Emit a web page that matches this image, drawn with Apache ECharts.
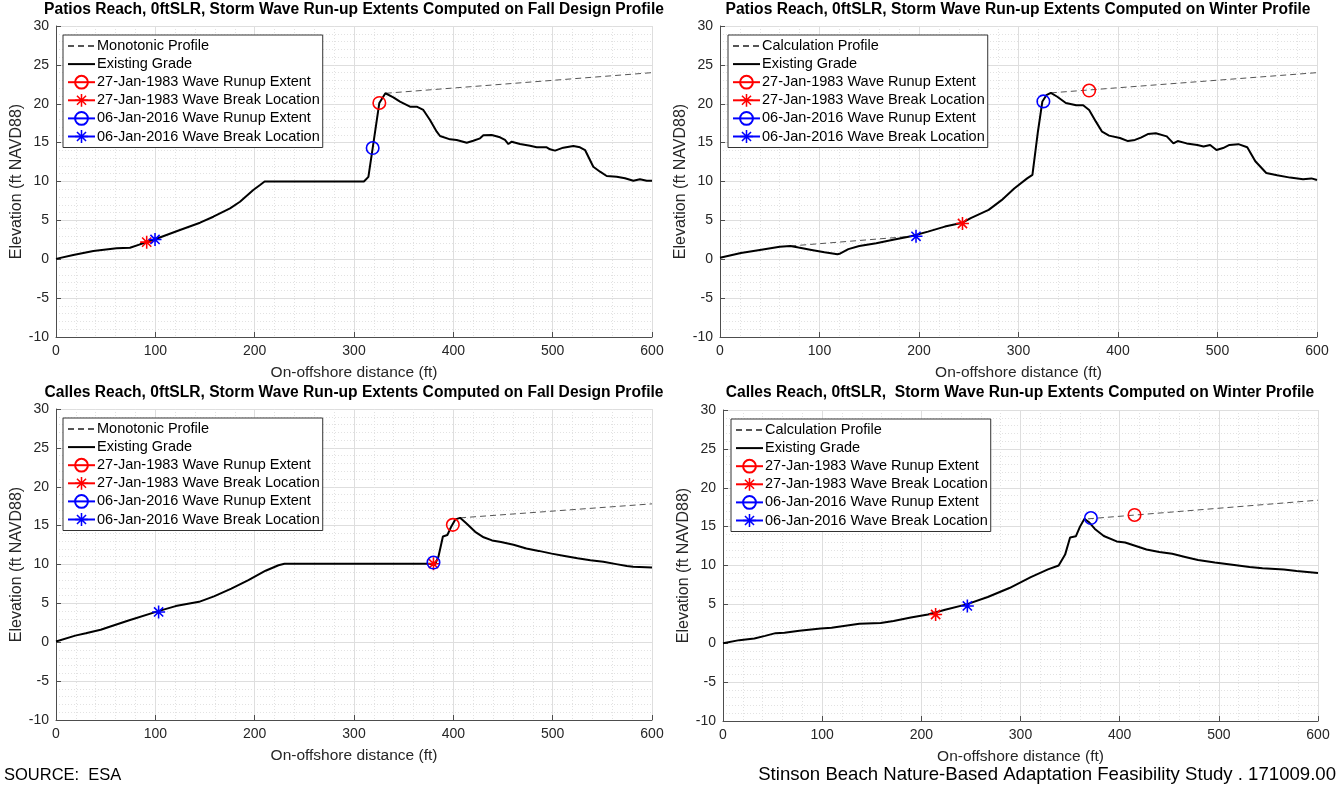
<!DOCTYPE html>
<html>
<head>
<meta charset="utf-8">
<script src="https://cdn.jsdelivr.net/npm/echarts@6/dist/echarts.min.js"></script>
<style>
html,body{margin:0;padding:0;background:#fff;}
#chart{width:1343px;height:788px;}
</style>
</head>
<body>
<div id="chart"></div>
<script>
// ---------- DATA ----------
const titles = [
  'Patios Reach, 0ftSLR, Storm Wave Run-up Extents Computed on Fall Design Profile',
  'Patios Reach, 0ftSLR, Storm Wave Run-up Extents Computed on Winter Profile',
  'Calles Reach, 0ftSLR, Storm Wave Run-up Extents Computed on Fall Design Profile',
  'Calles Reach, 0ftSLR,  Storm Wave Run-up Extents Computed on Winter Profile'
];
const profileNames = ['Monotonic Profile', 'Calculation Profile', 'Monotonic Profile', 'Calculation Profile'];
const xTicks = [0, 100, 200, 300, 400, 500, 600];
const yTicks = [-10, -5, 0, 5, 10, 15, 20, 25, 30];

// Patios Reach, Fall Design profile
const patiosFallX = [0,17.4,37.6,61,74.5,84.6,99.7,124.8,145,158.4,175.2,185.2,198.6,205.4,210,310,314.5,318.8,325.5,331.6,339.6,346.3,356.4,363.1,369.8,376.5,383.3,386.6,396.7,403.4,413.5,420.1,426.9,430.2,438.6,447,452,455.4,458.8,467.1,477.2,483.9,494,497.3,502.4,510.7,520.8,527.5,532.6,540.9,547.7,554.4,564.5,572.8,581.2,587.9,594.7,600];
const patiosFallY = [0.05,0.55,1.06,1.4,1.48,1.92,2.57,3.76,4.7,5.47,6.55,7.4,8.9,9.55,10,10,10.6,14.3,20.1,21.35,20.83,20.27,19.62,19.62,19.2,17.91,16.41,15.85,15.42,15.34,14.99,15.25,15.55,15.94,15.98,15.68,15.34,14.82,15.12,14.82,14.6,14.4,14.4,14.14,13.97,14.35,14.57,14.4,14.05,11.9,11.26,10.71,10.62,10.41,10.1,10.28,10.1,10.1];
const patiosFallProfX = [332, 600];
const patiosFallProfY = [21.35, 24.0];

// Patios Reach, Winter profile
const patiosWinterX = [0,21,40,60,70.6,79,92,105,118,121,129,140,157,174,192,209,226,243.7,252,270,283,295.7,308.7,314,319.5,324,328,332.5,339,347.6,358,365,371,377.8,384,391,402,410,417,423,430,438,449,455.7,460,469,479.7,486,492.6,499,505.6,512,521,529.9,538,549,560,573,586,594.4,600];
const patiosWinterY = [0.2,0.8,1.2,1.6,1.7,1.5,1.2,0.9,0.65,0.75,1.3,1.7,2.05,2.5,2.95,3.55,4.2,4.7,5.3,6.35,7.6,9.1,10.4,10.85,16.4,20.3,21.1,21.4,20.9,20.1,19.8,19.8,19.2,17.7,16.4,15.9,15.6,15.2,15.35,15.65,16.1,16.2,15.8,14.9,15.2,14.9,14.7,14.5,14.7,14.05,14.3,14.7,14.8,14.4,12.6,11.1,10.8,10.5,10.3,10.4,10.2];
const patiosWinterProfAX = [70.6, 197];
const patiosWinterProfAY = [1.7, 3.0];
const patiosWinterProfBX = [332.5, 600];
const patiosWinterProfBY = [21.4, 24.0];

// Calles Reach, Fall Design profile
const callesFallX = [0,19.4,30,45,54,73,103,120.5,144,159,176.5,193.7,211,224,230,376.7,381,385,389.5,394,398,402,406.8,413,422,430.5,439,448,460.6,473.5,486,499,512,525,538,551,564,574.7,581,600];
const callesFallY = [0.1,0.85,1.15,1.6,2.0,2.8,4.0,4.65,5.2,5.9,6.9,8.0,9.2,9.9,10.1,10.1,9.9,11.0,13.6,13.8,14.9,15.8,16.0,15.3,14.2,13.5,13.1,12.9,12.55,12.05,11.75,11.4,11.1,10.8,10.55,10.35,10.05,9.8,9.7,9.6];
const callesFallProfX = [406.8, 600];
const callesFallProfY = [16.0, 17.8];

// Calles Reach, Winter profile
const callesWinterX = [0,16.4,31.6,42.4,53,62,77,98.6,109.5,120,137.5,159,172,189.4,206.7,224,245.6,267,288.8,310.4,327.7,338.5,345,350,355.8,360,364.5,368.8,375,384,397,405.5,414,427,440,453,466,479,496,513.6,531,544,565.5,578.5,600];
const callesWinterY = [0,0.4,0.6,0.95,1.3,1.35,1.6,1.9,2.0,2.2,2.5,2.6,2.85,3.3,3.7,4.3,5.0,5.95,7.1,8.5,9.5,10.0,11.4,13.6,13.75,15.0,16.0,15.6,14.7,13.8,13.1,12.95,12.6,12.05,11.75,11.5,11.1,10.7,10.4,10.1,9.8,9.65,9.5,9.3,9.05];
const callesWinterProfX = [368, 600];
const callesWinterProfY = [16.0, 18.4];

// markers per panel: [x, y]
const runup1983 = [[325.5, 20.1], [371, 21.7], [399.5, 15.1], [415, 16.5]];
const break1983 = [[91.3, 2.2], [243.7, 4.6], [380, 10.1], [214.4, 3.7]];
const runup2016 = [[318.8, 14.3], [325, 20.3], [380, 10.25], [371, 16.1]];
const break2016 = [[99.7, 2.55], [197, 2.95], [103.3, 3.9], [246.4, 4.8]];

// ---------- BUILD ----------
function zip(xs, ys) { return xs.map((x, i) => [x, ys[i]]); }

const grades = [
  zip(patiosFallX, patiosFallY),
  zip(patiosWinterX, patiosWinterY),
  zip(callesFallX, callesFallY),
  zip(callesWinterX, callesWinterY)
];
const profiles = [
  [zip(patiosFallProfX, patiosFallProfY)],
  [zip(patiosWinterProfAX, patiosWinterProfAY), zip(patiosWinterProfBX, patiosWinterProfBY)],
  [zip(callesFallProfX, callesFallProfY)],
  [zip(callesWinterProfX, callesWinterProfY)]
];

const FONT = 'Liberation Sans, Arial, sans-serif';
const TXT = '#262626';
const AX = '#4d4d4d';
const RED = '#ff0000';
const BLUE = '#0000ff';
const CLEAR = 'rgba(0,0,0,0)';
const STAR = 'path://M8.8,0L11.2,0L11.2,20L8.8,20Z M0,8.8L20,8.8L20,11.2L0,11.2Z M2.08,3.78L3.78,2.08L17.92,16.22L16.22,17.92Z M16.22,2.08L17.92,3.78L3.78,17.92L2.08,16.22Z';

const gridPos = [
  {left: 56, top: 26, width: 596, height: 311},
  {left: 720, top: 26, width: 597, height: 311},
  {left: 56, top: 409, width: 596, height: 311},
  {left: 723, top: 410, width: 595, height: 311}
];
const titleCenters = [[354, 2], [1018, 2], [354, 385], [1020, 385]];
const legendPos = [[63, 35], [728, 35], [63, 418], [731, 419]];

const grids = [], xAxes = [], yAxes = [], series = [], titleArr = [], legends = [];

const minorLine = {show: true, lineStyle: {color: '#e2e2e2', width: 1, type: [1, 2]}};

gridPos.forEach((g, i) => {
  grids.push(Object.assign({containLabel: false}, g));
  xAxes.push({
    type: 'value', gridIndex: i, min: xTicks[0], max: xTicks[xTicks.length - 1], interval: 100,
    name: 'On-offshore distance (ft)', nameLocation: 'middle', nameGap: 28,
    nameTextStyle: {fontFamily: FONT, fontSize: 15.5, color: TXT},
    axisLine: {show: true, onZero: false, lineStyle: {color: AX, width: 1}},
    axisTick: {show: true, inside: true, length: 5, lineStyle: {color: AX}},
    axisLabel: {fontFamily: FONT, fontSize: 14, color: TXT, margin: 7, showMaxLabel: true, showMinLabel: true},
    splitLine: {show: true, lineStyle: {color: '#dedede', width: 1}},
    minorTick: {show: false, splitNumber: 5},
    minorSplitLine: minorLine
  });
  yAxes.push({
    type: 'value', gridIndex: i, min: yTicks[0], max: yTicks[yTicks.length - 1], interval: 5,
    name: 'Elevation (ft NAVD88)', nameLocation: 'middle', nameGap: 22,
    nameTextStyle: {fontFamily: FONT, fontSize: 16, color: TXT},
    axisLine: {show: true, onZero: false, lineStyle: {color: AX, width: 1}},
    axisTick: {show: true, inside: true, length: 5, lineStyle: {color: AX}},
    axisLabel: {fontFamily: FONT, fontSize: 14, color: TXT, margin: 7},
    splitLine: {show: true, lineStyle: {color: '#dedede', width: 1}},
    minorTick: {show: false, splitNumber: 5},
    minorSplitLine: minorLine
  });
  titleArr.push({
    text: titles[i], left: titleCenters[i][0], top: titleCenters[i][1], textAlign: 'center',
    padding: 0,
    textStyle: {fontFamily: FONT, fontSize: 15.6, fontWeight: 'bold', color: '#000'}
  });

  profiles[i].forEach(seg => {
    series.push({
      type: 'line', name: profileNames[i], xAxisIndex: i, yAxisIndex: i, data: seg,
      showSymbol: false, symbol: 'circle',
      lineStyle: {color: '#555555', width: 1, type: [6, 4]}, itemStyle: {color: CLEAR},
      silent: true, z: 2
    });
  });
  series.push({
    type: 'line', name: 'Existing Grade', xAxisIndex: i, yAxisIndex: i, data: grades[i],
    showSymbol: false, symbol: 'circle',
    lineStyle: {color: '#000', width: 2}, itemStyle: {color: CLEAR}, silent: true, z: 3
  });
  const mk = (name, pt, color, isStar) => ({
    type: 'line', name: name, xAxisIndex: i, yAxisIndex: i, data: [pt],
    showSymbol: true, symbol: isStar ? STAR : 'circle', symbolSize: isStar ? 13 : 12.5,
    lineStyle: {color: color, width: 1.5},
    itemStyle: isStar ? {color: color} : {color: CLEAR, borderColor: color, borderWidth: 1.6},
    silent: true, z: 4
  });
  series.push(mk('27-Jan-1983 Wave Runup Extent', runup1983[i], RED, false));
  series.push(mk('27-Jan-1983 Wave Break Location', break1983[i], RED, true));
  series.push(mk('06-Jan-2016 Wave Runup Extent', runup2016[i], BLUE, false));
  series.push(mk('06-Jan-2016 Wave Break Location', break2016[i], BLUE, true));

  legends.push({
    orient: 'vertical', left: legendPos[i][0], top: legendPos[i][1],
    data: [profileNames[i], 'Existing Grade', '27-Jan-1983 Wave Runup Extent', '27-Jan-1983 Wave Break Location',
           '06-Jan-2016 Wave Runup Extent', '06-Jan-2016 Wave Break Location'],
    backgroundColor: '#fff', borderColor: '#333', borderWidth: 1,
    padding: [3, 3, 3, 4], itemGap: 2.1, itemWidth: 27, itemHeight: 16,
    textStyle: {fontFamily: FONT, fontSize: 14.5, lineHeight: 16, color: '#000', padding: [0, 0, 0, -3]},
    selectedMode: false, inactiveColor: '#000', z: 10
  });
});

const chart = echarts.init(document.getElementById('chart'), null, {renderer: 'canvas'});
chart.setOption({
  animation: false,
  backgroundColor: '#fff',
  title: titleArr,
  grid: grids,
  xAxis: xAxes,
  yAxis: yAxes,
  legend: legends,
  series: series,
  graphic: [
    {type: 'text', left: 4, top: 767, style: {text: 'SOURCE:  ESA', fontFamily: FONT, fontSize: 16.5, fill: '#000'}},
    {type: 'text', right: 7, top: 765, style: {text: 'Stinson Beach Nature-Based Adaptation Feasibility Study . 171009.00', fontFamily: FONT, fontSize: 18.6, fill: '#000'}}
  ]
});
</script>
</body>
</html>
